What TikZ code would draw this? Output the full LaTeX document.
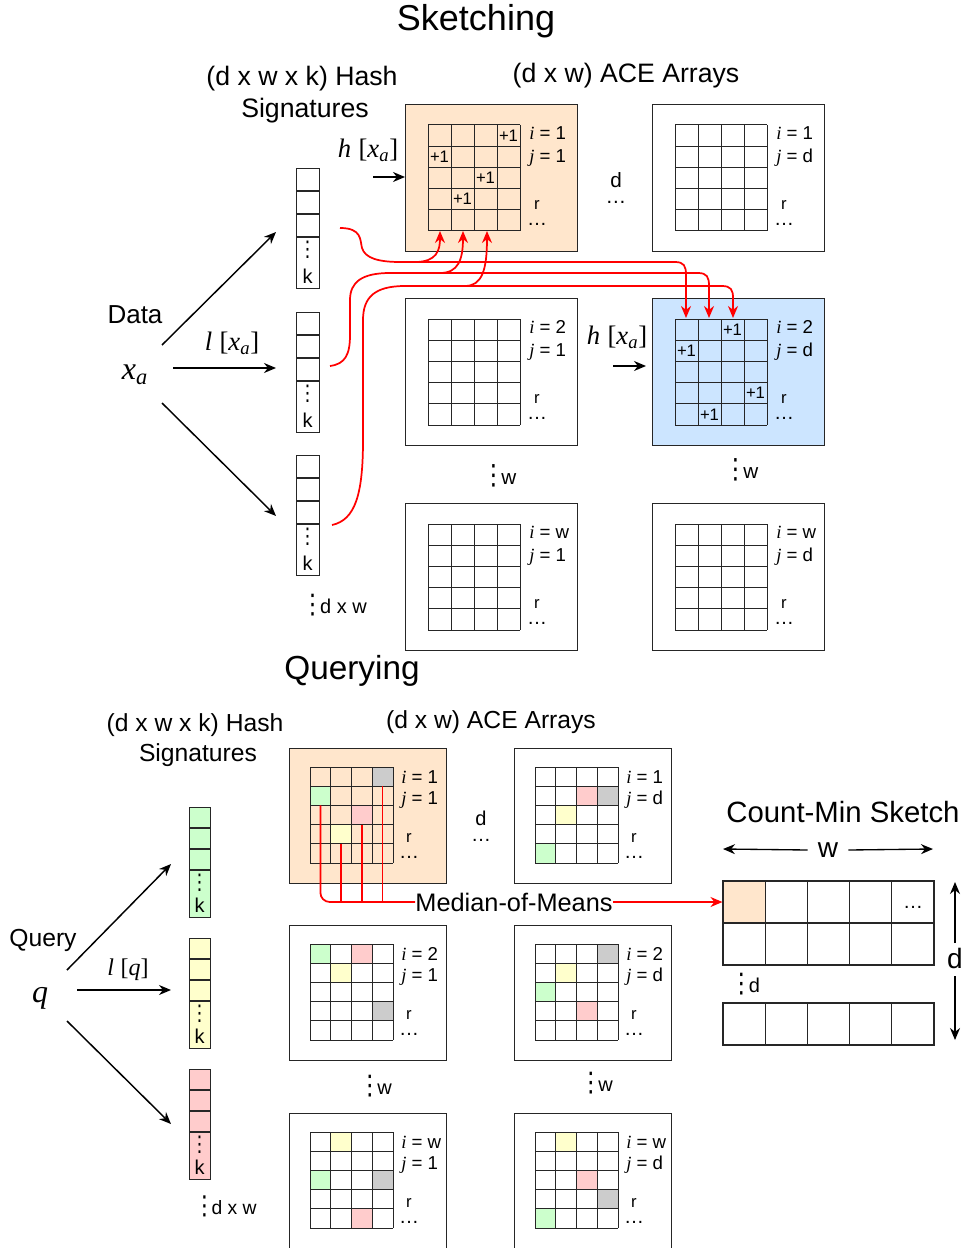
\documentclass[tikz,border=0pt]{standalone}
\usepackage{fontspec}
\usepackage{graphicx}
\setmainfont{Liberation Sans}
\newfontfamily\serf{Liberation Serif}
\newfontfamily\djv{DejaVu Sans}
\usetikzlibrary{arrows.meta}
\definecolor{orangefill}{HTML}{FFE6CC}
\definecolor{bluefill}{HTML}{CCE5FF}
\definecolor{gfill}{HTML}{CCFFCC}
\definecolor{yfill}{HTML}{FFFFCC}
\definecolor{pfill}{HTML}{FFCCCC}
\definecolor{kfill}{HTML}{CCCCCC}
\newcommand\fsz[1]{\fontsize{#1}{#1}\selectfont}
\newcommand\vd{\scalebox{1.15}[1.35]{\djv ⋮}}
\newcommand\vdw[1]{\vd\kern-3pt #1}
\tikzset{
  abox/.style={draw=black!85, line width=0.9pt, anchor=north west, inner sep=0pt},
  gl/.style={draw=black!85, line width=0.75pt},
  redln/.style={draw=red, line width=1.3pt},
  redarr/.style={draw=red, line width=1.3pt, -{Stealth[length=9pt,width=7.5pt]}},
  blkarr/.style={draw=black, line width=1.1pt, -{Stealth[length=9pt,width=7.5pt]}},
  ijl/.style={anchor=west, inner sep=0pt, font=\fsz{14}},
  stk/.style={inner sep=0pt, align=center, font=\fsz{12.5}},
  txt/.style={inner sep=0pt},
  plus/.style={inner sep=0pt, font=\fsz{12.5}},
  sigc/.style={draw=black!85, line width=0.8pt, anchor=north west, inner sep=0pt},
  cmcell/.style={draw=black!85, line width=0.8pt, inner sep=0pt, minimum width=31.65pt, minimum height=31.5pt},
}
% grid of 4 columns x 5 rows
\newcommand\acegrid[4]{%
  \foreach \rr in {0,...,5} {\draw[gl] (#1,{#2+\rr*#4}) -- ({#1+4*#3},{#2+\rr*#4});}
  \foreach \cc in {0,...,4} {\draw[gl] ({#1+\cc*#3},#2) -- ({#1+\cc*#3},{#2+5*#4});}
}
\newcommand\rdots{r\\[-1pt]{\fsz{15}\dots}}
% top ACE box: name x y fill i j
\newcommand\topbox[6]{%
  \node[abox, fill=#4, minimum width=129pt, minimum height=110.25pt] (#1) at (#2,#3) {};
  \acegrid{#2+23}{#3+21}{23}{21.2}
  \node[ijl] (#1i) at (#2+124,#3+29) {{\serf\itshape i} = #5};
  \node[ijl] (#1j) at (#2+124,#3+54) {{\serf\itshape j} = #6};
  \node[stk] (#1r) at (#2+132,#3+109) {\rdots};
}
% +1 in top box cell: x y col row
\newcommand\plusone[4]{\node[plus] at ({#1+23+(#3+0.5)*23},{#2+21+(#4+0.5)*21.2}) {+1};}
% bottom ACE box: name x y fill i j fills
\newcommand\botbox[7]{%
  \node[abox, fill=#4, minimum width=117.75pt, minimum height=101.25pt] (#1) at (#2,#3) {};
  \foreach \cc/\rr/\kk in {#7} {\fill[\kk] ({#2+21+\cc*20.75},{#3+19+\rr*19.2}) rectangle ++(20.75,19.2);}
  \acegrid{#2+21}{#3+19}{20.75}{19.2}
  \node[ijl] (#1i) at (#2+112,#3+29) {{\serf\itshape i} = #5};
  \node[ijl] (#1j) at (#2+112,#3+52) {{\serf\itshape j} = #6};
  \node[stk] (#1r) at (#2+120,#3+98) {\rdots};
}
% signature column: name x y fill w h cell
\newcommand\sigcol[7]{%
  \node[sigc, fill=#4, minimum width=#5*0.75pt, minimum height=#6*0.75pt] (#1) at (#2,#3) {};
  \foreach \rr in {1,2,3} {\draw[gl, line width=0.8pt] (#2,{#3+\rr*#7}) -- ({#2+#5},{#3+\rr*#7});}
  \node[txt, font=\fsz{12}] (#1v) at ({#2+#5/2},{#3+3*#7+13}) {\vd};
  \node[txt, font=\fsz{15}] (#1k) at ({#2+#5/2},{#3+#6-12}) {k};
}
\begin{document}
\begin{tikzpicture}[x=0.75pt,y=-0.75pt]
\path[use as bounding box] (0,0) rectangle (966,1248);

% ================= SKETCHING =================
\node[txt, font=\fsz{27}] (t1) at (476,21) {Sketching};
\node[txt, font=\fsz{20}] (hs1) at (302,79) {(d x w x k) Hash};
\node[txt, font=\fsz{20}] (hs2) at (305,111) {Signatures};
\node[txt, font=\fsz{20}] (ace1) at (626,76) {(d x w) ACE Arrays};

\topbox{b11}{405}{104}{orangefill}{1}{1}
\topbox{b1d}{652}{104}{white}{1}{d}
\topbox{b21}{405}{298}{white}{2}{1}
\topbox{b2d}{652}{298}{bluefill}{2}{d}
\topbox{bw1}{405}{503}{white}{w}{1}
\topbox{bwd}{652}{503}{white}{w}{d}

\plusone{405}{104}{3}{0}
\plusone{405}{104}{0}{1}
\plusone{405}{104}{2}{2}
\plusone{405}{104}{1}{3}
\plusone{652}{298}{2}{0}
\plusone{652}{298}{0}{1}
\plusone{652}{298}{3}{3}
\plusone{652}{298}{1}{4}

\node[stk, font=\fsz{15.5}] (dd1) at (616,188) {d\\[-3pt]\dots};
\node[txt, font=\fsz{15.5}] (vw1) at (499,476) {\vdw{w}};
\node[txt, font=\fsz{15.5}] (vw2) at (741,470) {\vdw{w}};

\node[txt, font=\fsz{20}] (hx1) at (368,150) {{\serf\itshape h} {\serf[{\itshape x}\textsubscript{\itshape a}]}};
\coordinate (ha1) at (373,177);
\draw[blkarr] (ha1) -- (b11.west |- ha1);
\node[txt, font=\fsz{20}] (hx2) at (617,337) {{\serf\itshape h} {\serf[{\itshape x}\textsubscript{\itshape a}]}};
\coordinate (ha2) at (613,366);
\draw[blkarr] (ha2) -- (646,366);

\sigcol{s1}{296}{168}{white}{23}{120}{23}
\sigcol{s2}{296}{312}{white}{23}{120}{23}
\sigcol{s3}{296}{455}{white}{23}{120}{23}
\node[txt, font=\fsz{15}] (dxw1) at (334,605) {\vdw{d x w}};

\node[txt, font=\fsz{19.5}] (data) at (135,315) {Data};
\node[txt, font=\fsz{24}] (xa) at (135,375) {{\serf\itshape x}\textsubscript{{\serf\itshape a}}};
\node[txt, font=\fsz{20}] (lx) at (232,343) {{\serf\itshape l} {\serf[{\itshape x}\textsubscript{\itshape a}]}};
\coordinate (a1s) at (162,345); \coordinate (a1e) at (276,232);
\coordinate (a2s) at (173,368); \coordinate (a2e) at (276,368);
\coordinate (a3s) at (162,403); \coordinate (a3e) at (276,516);
\draw[blkarr] (a1s) -- (a1e);
\draw[blkarr] (a2s) -- (a2e);
\draw[blkarr] (a3s) -- (a3e);

% red curves
\coordinate (r1s) at (340,228);
\coordinate (r2s) at (330,366);
\coordinate (r3s) at (332,525);
\draw[redarr] (r1s) .. controls (362,228) and (360,240) .. (362,248) .. controls (365,258) and (378,262) .. (400,262) -- (415,262) .. controls (437,262) and (440,250) .. (440,231);
\draw[redarr] (400,262) -- (675,262) .. controls (684,262) and (686,266) .. (686,275) -- (686,318);
\draw[redarr] (r2s) .. controls (345,364) and (350,355) .. (350,335) -- (350,300) .. controls (350,282) and (362,273) .. (390,273) -- (440,273) .. controls (458,273) and (463,260) .. (463,231);
\draw[redarr] (390,273) -- (698,273) .. controls (707,273) and (709,277) .. (709,286) -- (709,318);
\draw[redarr] (r3s) .. controls (355,520) and (363,495) .. (363,440) -- (363,320) .. controls (363,297) and (375,286) .. (405,286) -- (465,286) .. controls (482,286) and (487,270) .. (487,231);
\draw[redarr] (405,286) -- (722,286) .. controls (731,286) and (733,290) .. (733,298) -- (733,318);

% ================= QUERYING =================
\node[txt, font=\fsz{25}] (t2) at (352,671) {Querying};
\node[txt, font=\fsz{18.5}] (qh1) at (195,725) {(d x w x k) Hash};
\node[txt, font=\fsz{18.5}] (qh2) at (198,755) {Signatures};
\node[txt, font=\fsz{18.5}] (ace2) at (491,722) {(d x w) ACE Arrays};

\botbox{q11}{289}{748}{orangefill}{1}{1}{3/0/kfill,0/1/gfill,2/2/pfill,1/3/yfill}
\botbox{q1d}{514}{748}{white}{1}{d}{2/1/pfill,3/1/kfill,1/2/yfill,0/4/gfill}
\botbox{q21}{289}{925}{white}{2}{1}{0/0/gfill,2/0/pfill,1/1/yfill,3/3/kfill}
\botbox{q2d}{514}{925}{white}{2}{d}{3/0/kfill,1/1/yfill,0/2/gfill,2/3/pfill}
\botbox{qw1}{289}{1113}{white}{w}{1}{1/0/yfill,0/2/gfill,3/2/kfill,2/4/pfill}
\botbox{qwd}{514}{1113}{white}{w}{d}{1/0/yfill,2/2/pfill,3/3/kfill,0/4/gfill}

\node[stk, font=\fsz{15}] (dd2) at (481,826) {d\\[-3pt]\dots};
\node[txt, font=\fsz{15}] (vw3) at (375,1086) {\vdw{w}};
\node[txt, font=\fsz{15}] (vw4) at (596,1083) {\vdw{w}};

\sigcol{g1}{189}{807}{gfill}{21}{110}{21}
\sigcol{g2}{189}{938}{yfill}{21}{110}{21}
\sigcol{g3}{189}{1069}{pfill}{21}{110}{21}
\node[txt, font=\fsz{14.5}] (dxw2) at (225,1206) {\vdw{d x w}};

\node[txt, font=\fsz{18.5}] (query) at (43,940) {Query};
\node[txt, font=\fsz{24}] (q) at (40,998) {{\serf\itshape q}};
\node[txt, font=\fsz{18}] (lq) at (128,970) {{\serf\itshape l} {\serf[{\itshape q}]}};
\coordinate (b1s) at (67,970); \coordinate (b1e) at (171,864);
\coordinate (b2s) at (77,990); \coordinate (b2e) at (171,990);
\coordinate (b3s) at (67,1021); \coordinate (b3e) at (171,1124);
\draw[blkarr] (b1s) -- (b1e);
\draw[blkarr] (b2s) -- (b2e);
\draw[blkarr] (b3s) -- (b3e);

% Median-of-Means
\node[txt, font=\fsz{19}] (mom) at (514,902) {Median-of-Means};
\coordinate (mg) at (320.4,805.4);
\coordinate (my) at (341.1,843.8);
\coordinate (mp) at (361.9,824.6);
\coordinate (mk) at (382.6,786.2);
\draw[redln, rounded corners=7pt] (mg) |- (mom.west);
\draw[redln] (my) -- (my |- mom.west);
\draw[redln] (mp) -- (mp |- mom.west);
\draw[redln] (mk) -- (mk |- mom.west);

% Count-Min sketch
\node[txt, font=\fsz{22}] (cmt) at (843,812) {Count-Min Sketch};
\fill[orangefill] (723,881) rectangle ++(42.2,42);
\foreach \cc in {0,...,4} {
  \foreach \rr in {0,1} {\node[cmcell] (cm-\rr-\cc) at ({744.1+\cc*42.2},{902+\rr*42}) {};}
  \node[cmcell] (cmb-\cc) at ({744.1+\cc*42.2},1024) {};
}
\node[txt, font=\fsz{15}] (cmdots) at (913,907) {\dots};
\node[txt, font=\fsz{15}] (cmvd) at (745,984) {\vdw{d}};
\draw[redarr] (mom.east) -- (mom.east -| cm-0-0.west);

\node[txt, font=\fsz{21}] (cmw) at (828,850) {w};
\draw[blkarr, line width=1pt] (cmw.west) ++(-10,0) coordinate (wl) -- (723,849);
\draw[blkarr, line width=1pt] (cmw.east) ++(10,0) coordinate (wr) -- (933,849);
\node[txt, font=\fsz{21}] (cmd) at (955,958) {d};
\draw[blkarr, line width=1pt] (955,943) -- (955,882);
\draw[blkarr, line width=1pt] (955,976) -- (955,1040);
\end{tikzpicture}
\end{document}
